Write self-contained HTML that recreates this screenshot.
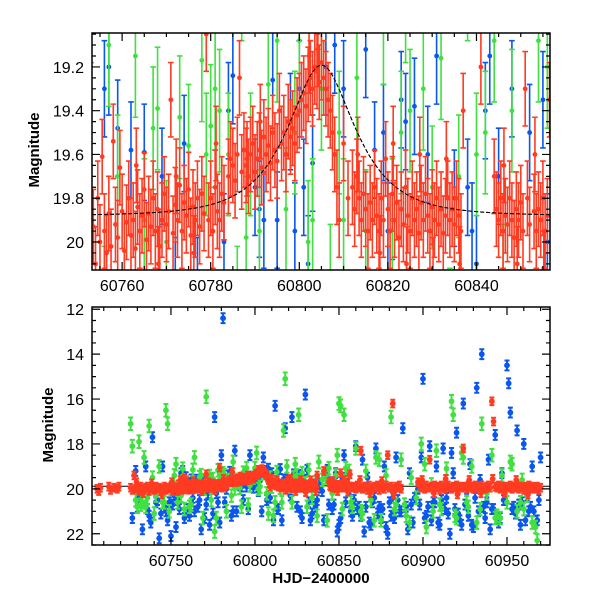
<!DOCTYPE html>
<html><head><meta charset="utf-8"><style>
html,body{margin:0;padding:0;background:#fff;width:600px;height:600px;overflow:hidden;}
svg{display:block;font-family:"Liberation Sans",Arial,sans-serif;}
</style></head><body>
<svg id="chart" width="600" height="600" viewBox="0 0 600 600">
<defs>
<clipPath id="clipTop"><rect x="92" y="33" width="458" height="237"/></clipPath>
<clipPath id="clipBot"><rect x="92" y="307" width="458" height="238"/></clipPath>
</defs>
<g id="top-marks" clip-path="url(#clipTop)"></g>
<g id="bot-marks" clip-path="url(#clipBot)"></g>
<g id="axes"></g>
<text x="0" y="0" transform="translate(39,150) rotate(-90)" text-anchor="middle" font-size="15" font-weight="bold">Magnitude</text>
<text x="0" y="0" transform="translate(53,425) rotate(-90)" text-anchor="middle" font-size="15" font-weight="bold">Magnitude</text>
<text x="321" y="583" text-anchor="middle" font-size="15" font-weight="bold">HJD−2400000</text>
</svg>
<script>
// ---- data ----
const redT = [60706,60707,60708,60713,60714,60716,60718,60719,
60726,60727,60728,60729,60730,60731,60732,60733,60734,60735,60736,60737,60738,60739,60740,60741,60742,60743,60744,60745,60746,60747,60748,60749,60750,60751,60752,
60753.5,60754,60754.5,60755,60755.5,60756,60756.5,60757,60757.5,60758,60758.5,60759,60759.5,60760,60760.5,60761,60761.5,60762,60762.5,60763,60763.5,60764,60764.5,60765,60765.5,60766,60766.5,60767,60767.5,60768,60768.5,60769,60769.5,60770,60770.5,60771,60771.5,60772,60772.5,60773,60773.5,60774,60774.5,60775,60775.5,60776,60776.5,60777,60777.5,60778,60778.5,60779,60779.5,60780,60780.5,60781,60781.5,60782,60782.5,60783,60784,60784.5,60785,60785.5,60786,60786.5,60787,60787.5,60788,60788.5,60789,60789.5,60790,60790.5,60791,60791.5,60792,60792.5,60793,60793.5,60794,60794.5,60795,60796,60796.5,60797,60797.5,60798,60798.5,60799,60799.5,60800,60800.5,60801,60801.5,60802,60802.5,60803,60803.5,60804,60804.5,60805,60805.5,60806,60806.5,60807,60807.5,60808,60808.5,60809,60810,60811,60812,60812.5,60813,60813.5,60814,60814.5,60815,60815.5,60816,60816.5,60817,60817.5,60818,60818.5,60819,60819.5,60820,60820.5,60821,60821.5,60822,60822.5,60823,60823.5,60824,60824.5,60825,60825.5,60826,60826.5,60827,60827.5,60828,60828.5,60829,60829.5,60830,60830.5,60831,60831.5,60832,60832.5,60833,60833.5,60834,60834.5,60835,60835.5,60836,60836.5,60837,60841,60844,60844.5,60845,60845.5,60846,60846.5,60847,60847.5,60848,60848.5,60849,60849.5,60850,60850.5,60851,60851.5,60852,60853,60853.5,60854,60854.5,60855,60855.5,60856,60856.5,
60858,60859,60860,60861,60862,60863,60864,60865,60866,60867,60868,60869,60870,60871,60872,60873,60874,60875,60876,60877,60878,60879,60880,60881,60882,60883,60884,60885,60886,60887,
60897,60898,60899,60900,60901,60902,60903,60904,60905,60906,60907,60908,60909,60910,60911,60912,60913,60914,60915,60916,60917,60918,60919,60920,60921,60922,60923,60924,60925,60926,60927,60928,60929,60930,60931,60932,60933,60934,60935,60936,60937,60938,60939,60940,60941,60942,60943,60944,60945,60946,60947,60948,60949,60950,60951,60952,60953,60954,60955,60956,60957,60958,60959,60960,60961,60962,60963,60964,60965,60966,60967,60968,60969,60970,
60729.5,60733.5,60738.5,60744.5,60750.5,60763.2,60768.2,60772.2,60776.2,60781.2,60788.2,60791.2,60795.5,60802.2,60804.2,60813.2,60818.2,60821.2,60824.2,60827.2,60830.2,60833.2,60836.2,60846.2,60849.2,60853.2,60855.2,60862.5,60868.5,60875.5,60882.5,60899.5,60906.5,60913.5,60920.5,60927.5,60934.5,60941.5,60948.5,60955.5,60962.5];
const redM = [20.0,20.1,19.95,19.9,20.05,19.95,20.0,19.9,
19.95,20.05,19.4,20.0,19.95,20.1,19.9,20.0,20.05,19.95,19.9,20.1,20.0,19.95,20.05,19.9,20.0,19.95,20.1,20.0,19.9,20.05,19.95,20.0,19.9,20.1,19.95,
19.93,20.1,19.8,20.0,19.61,19.95,20.05,19.87,20.02,19.54,19.92,19.98,19.66,19.86,20.04,19.91,19.8,19.97,19.9,20.03,19.84,19.95,19.88,19.76,19.99,19.87,19.93,19.8,19.95,19.85,20.02,19.9,19.78,19.92,19.86,19.35,19.96,19.83,19.9,19.74,19.95,19.82,19.88,19.76,19.97,19.84,19.9,19.8,19.93,19.78,19.87,19.05,19.9,19.8,19.95,19.75,19.86,19.9,19.78,19.82,19.7,19.62,19.65,19.72,19.6,19.25,19.68,19.58,19.65,19.7,19.6,19.55,19.68,19.62,19.58,19.66,19.52,19.6,19.56,19.64,19.5,19.58,19.63,19.55,19.5,19.6,19.45,19.52,19.48,19.55,19.42,19.4,19.35,19.32,19.38,19.28,19.25,19.3,19.2,19.22,19.27,19.18,19.25,19.3,19.35,19.4,19.5,19.6,19.75,19.9,19.55,19.8,19.75,19.85,19.7,19.8,19.9,19.78,19.85,19.95,19.82,19.9,19.75,19.88,19.95,19.8,19.9,19.62,19.85,19.95,19.78,19.9,19.82,19.98,19.85,19.92,19.75,19.88,19.95,19.8,19.9,19.85,19.96,19.82,19.9,19.78,19.88,19.95,19.84,19.9,19.8,19.92,19.85,19.96,19.88,19.8,19.9,19.85,19.92,19.8,19.88,19.95,19.4,19.2,19.7,19.85,19.9,19.8,19.95,19.88,19.92,19.8,19.9,19.98,19.85,19.9,19.82,19.95,19.3,19.8,19.92,19.86,19.95,19.85,19.9,19.8,19.95,19.88,19.35,
19.95,19.9,20.0,19.85,19.95,18.3,20.0,19.9,19.95,20.05,19.85,19.95,20.0,19.9,19.95,19.85,20.05,19.9,19.95,20.0,19.85,18.5,19.95,19.9,16.2,20.0,19.9,19.95,19.85,20.0,
19.7,19.85,19.95,19.9,20.0,19.85,19.95,18.7,19.9,20.0,19.85,19.95,19.9,20.05,19.85,19.95,20.0,19.9,19.85,19.95,20.0,19.9,19.95,19.85,20.05,19.9,19.95,18.2,19.9,20.0,19.85,19.95,19.9,20.0,19.85,19.95,19.9,20.05,19.85,19.95,20.0,19.9,19.85,19.95,16.1,17.0,19.9,19.95,19.85,20.0,19.9,19.95,20.05,19.9,19.95,19.85,20.0,19.9,19.95,19.85,20.0,19.9,19.95,20.05,19.9,19.95,19.85,20.0,19.9,19.95,20.0,19.9,20.05,19.95,
19.7,20.2,19.75,20.25,19.7,19.65,20.1,19.7,20.05,19.55,19.62,19.45,19.4,19.15,19.12,19.6,20.05,19.55,20.1,19.6,20.15,19.62,20.1,19.65,20.1,19.6,20.12,19.6,20.2,19.65,20.25,19.6,20.2,19.55,20.25,19.6,20.2,19.55,20.2,19.6,20.25];
const blueT = [60727,60729,60731,60733,60735,60737,60739,60741,60743,60745,60746,60748,60750,60752,60754,60756,60757,60759,60760,60762,60764,60765,60767,60769,60770,60772,60774,60776,60777,60779,60780,60781,60783,60784,60785,60787,60788,60790,60791,60792,60793,60794,60795,60797,60798,60799,60800,60801,60802,60803,60805,60806,60808,60809,60810,60812,60814,60815,60816,60817,60818,60819,60820,60821,60822,60823,60824,60826,60827,60829,60830,60831,60833,60835,60837,60838,60839,60840,60842,60843,60845,60846,60848,60850,60852,60853,60855,60856,60858,60860,60862,60865,60867,60870,60872,60875,60877,60879,60882,60884,60886,60888,60890,60892,60894,60897,60899,60900,60902,60904,60906,60908,60910,60912,60914,60916,60918,60920,60922,60924,60926,60928,60930,60932,60934,60935,60937,60939,60941,60943,60945,60947,60950,60951,60952,60954,60956,60958,60960,60962,60965,60968,60970,
60736,60744,60751,60758,60766,60773,60778,60786,60796,60804,60811,60825,60834,60844,60851,60861,60868,60874,60881,60898,60905,60913,60921,60929,60936,60944,60953,60963,
60730,60738,60742,60747,60749,60753,60755,60761,60763,60768,60771,60775,60782,60789,60807,60813,60828,60832,60836,60841,60847,60849,60854,60857,60859,60863,60864,60866,60869,60871,60873,60876,60878,60880,60883,60885,60887,60891,60893,60895,60901,60903,60907,60909,60911,60915,60917,60919,60923,60925,60927,60931,60933,60938,60940,60942,60946,60948,60955,60957,60959,60961,60964,60966,60969];
const blueM = [21.3,19.2,20.4,21.8,19.0,21.2,17.7,20.6,22.2,19.0,20.8,21.4,22.1,20.3,20.5,19.3,19.2,19.48,20.9,19.58,21.0,19.59,20.5,19.7,21.3,20.2,19.55,16.8,20.2,21.5,18.5,12.4,20.0,19.4,19.24,21.0,18.3,19.75,19.85,19.9,20.5,19.26,19.9,18.5,19.45,19.95,19.3,19.75,20.1,19.64,18.6,19.2,19.1,20.4,19.3,16.3,20.9,19.12,21.4,19.58,17.3,19.5,19.95,20.3,16.8,19.35,19.45,19.38,21.0,19.6,15.8,19.15,21.4,19.8,20.5,19.75,19.95,20.1,19.4,19.15,19.7,20.9,19.3,21.6,19.5,18.5,19.35,20.0,21.2,18.1,20.8,21.9,19.5,20.6,18.2,21.3,19.0,22.0,20.4,18.6,21.0,17.3,20.8,19.3,21.5,20.0,18.6,15.1,21.2,18.1,20.6,19.0,21.6,18.2,20.4,22.0,19.3,17.5,21.4,16.2,20.0,18.9,21.7,15.5,19.6,14.0,21.3,18.7,20.9,17.6,21.5,19.3,14.5,15.3,16.6,20.8,17.4,21.6,18.0,20.3,19.0,21.4,18.6,
20.9,21.1,20.7,21.3,20.8,21.6,20.6,21.2,20.9,21.0,21.4,20.8,21.1,20.7,21.3,20.9,21.5,20.8,21.2,20.7,21.4,20.9,21.1,21.6,20.8,21.3,20.9,21.0,
20.8,21.5,20.5,21.0,20.6,21.7,20.9,21.2,20.4,21.8,20.7,21.1,20.6,21.0,20.5,20.9,21.3,20.6,20.8,21.4,20.7,21.9,20.6,21.0,20.5,21.2,18.7,20.8,21.6,20.4,21.1,20.9,21.7,20.6,21.3,20.5,21.0,21.8,20.7,20.4,21.3,20.8,20.6,21.5,20.5,21.1,18.4,20.9,21.6,20.7,21.2,20.4,21.0,20.6,21.8,20.9,21.3,20.5,21.1,20.7,20.6,21.4,20.8,21.0,20.5];
const greenT = [60726,60727,60729,60731,60732,60734,60735,60737,60739,60741,60743,60745,60747,60748,60750,60752,60754,60756,60757,60759,60761,60763,60765,60767,60768,60770,60771,60773,60775,60776,60778,60779,60780,60781,60782,60784,60786,60788,60789,60791,60793,60795,60797,60799,60800,60802,60803,60805,60807,60809,60810,60812,60813,60815,60817,60818,60819,60821,60823,60825,60826,60828,60830,60832,60834,60836,60838,60840,60842,60844,60846,60848,60850,60851,60853,60854,60856,60858,60860,60863,60866,60869,60872,60875,60878,60881,60884,60887,60890,60893,60896,60899,60902,60905,60908,60911,60914,60917,60918,60920,60923,60926,60929,60932,60935,60938,60941,60944,60947,60950,60953,60956,60959,60962,60965,60968,
60733,60749,60762,60777,60792,60808,60822,60837,60852,60871,60889,60906,60927,60946,60960,
60730,60736,60740,60746,60753,60758,60764,60769,60774,60783,60787,60796,60801,60811,60816,60824,60831,60843,60849,60857,60864,60874,60883,60892,60901,60910,60919,60924,60934,60943,60952,60958,60967];
const greenM = [17.1,18.1,20.5,17.9,20.7,18.6,20.8,17.2,19.5,20.3,19.0,20.6,16.5,17.1,20.0,19.4,20.6,20.3,19.1,19.7,20.8,19.15,19.9,19.48,19.39,20.0,15.9,19.43,19.56,21.9,19.17,19.6,19.47,19.3,19.4,19.6,20.3,19.98,19.6,19.95,19.28,19.08,19.85,19.5,19.08,20.0,19.9,19.3,20.2,19.5,19.9,20.6,19.25,19.95,17.4,15.1,19.0,19.9,19.5,19.4,16.7,19.3,19.75,19.16,20.4,19.7,18.8,19.6,19.5,19.08,20.2,19.4,16.2,16.3,16.7,19.08,19.2,20.8,18.2,21.0,19.2,20.5,18.6,21.4,19.4,16.8,20.7,18.7,21.2,19.5,20.4,18.0,21.7,19.8,18.3,20.9,19.1,16.1,16.7,21.3,18.4,20.6,19.0,21.5,17.1,20.2,18.5,21.2,19.4,20.6,18.9,21.0,19.6,20.3,21.5,22.3,
20.6,21.0,20.7,21.3,20.8,21.1,20.6,21.2,20.9,21.4,20.7,21.0,20.8,21.3,20.9,
20.8,20.4,21.1,20.6,18.9,20.9,18.6,21.3,20.5,21.0,18.8,20.7,18.4,21.2,20.6,18.9,20.8,21.4,18.5,20.6,21.1,18.7,20.9,21.5,18.9,20.7,21.2,18.6,20.9,21.3,18.8,20.6,21.7];
const redErr = 0.17, greenErr = 0.28, blueErr = 0.22;
// model: t0, u0, tE, baseline
const modelT0 = 60805, modelU0 = 0.6, modelTE = 12, modelBase = 19.88;

// ---- axes ----
const NS = "http://www.w3.org/2000/svg";
const P = {
  top: {x0:92,x1:550,y0:33,y1:270, tmin:60753.2,tmax:60856.6, mmin:19.045,mmax:20.128},
  bot: {x0:92,x1:550,y0:307,y1:545, tmin:60703,tmax:60975.6, mmin:11.9,mmax:22.5}
};
function xs(p,t){return p.x0+(t-p.tmin)/(p.tmax-p.tmin)*(p.x1-p.x0);}
function ys(p,m){return p.y0+(m-p.mmin)/(p.mmax-p.mmin)*(p.y1-p.y0);}
function el(tag,attrs,parent){const e=document.createElementNS(NS,tag);for(const k in attrs)e.setAttribute(k,attrs[k]);parent.appendChild(e);return e;}
function model(t){const u=Math.sqrt(modelU0*modelU0+((t-modelT0)/modelTE)**2);const A=(u*u+2)/(u*Math.sqrt(u*u+4));return modelBase-2.5*Math.log10(A);}

const series=[
  {name:'blue',T:blueT,M:blueM,E:blueErr,c:'#0a56ee'},
  {name:'green',T:greenT,M:greenM,E:greenErr,c:'#40e040'},
  {name:'red',T:redT,M:redM,E:redErr,c:'#ff3b22'}
];
function drawPanel(p,g,key,cap,r,dashed,ew){
  let d='';
  for(let t=p.tmin;t<=p.tmax;t+=0.25){d+=(d?'L':'M')+xs(p,t).toFixed(1)+','+ys(p,model(t)).toFixed(1);}
  const mc=el('path',{d:d,fill:'none',stroke:'#000','stroke-width':1,'stroke-dasharray':dashed?'4,2':'none'},g);
  
  
  series.forEach(s=>{
    const sg=el('g',{},g);
    
    
    for(let i=0;i<s.T.length;i++){
      const x=xs(p,s.T[i]);
      if(x<p.x0-5||x>p.x1+5)continue;
      const ya=ys(p,s.M[i]-s.E),yb=ys(p,s.M[i]+s.E),y=ys(p,s.M[i]);
      const eb=el('path',{d:`M${x},${ya}V${yb}M${x-cap},${ya}h${2*cap}M${x-cap},${yb}h${2*cap}`,stroke:s.c,'stroke-width':ew,fill:'none'},sg);
      
      
      const c=el('circle',{cx:x,cy:y,r:r,fill:s.c},sg);
      
      
    }
  });
  if(dashed){const mc2=mc.cloneNode();g.appendChild(mc2);}
}
drawPanel(P.top,document.getElementById('top-marks'),'top',2.8,2.4,true,1.6);
drawPanel(P.bot,document.getElementById('bot-marks'),'bottom',2.5,2.9,false,2);

const ax=document.getElementById('axes');
function frame(p,key,xMaj,xMin,yMaj,yMin,yfmt){
  const f=el('rect',{x:p.x0,y:p.y0,width:p.x1-p.x0,height:p.y1-p.y0,fill:'none',stroke:'#000','stroke-width':1.5},ax);
  
  
  let d='';
  const t0=Math.ceil(p.tmin/xMin)*xMin;
  for(let t=t0;t<=p.tmax;t+=xMin){
    const x=xs(p,t);const major=Math.abs(t/xMaj-Math.round(t/xMaj))<1e-6;const L=major?8:4;
    d+=`M${x},${p.y1}v${-L}M${x},${p.y0}v${L}`;
    if(major){const tx=el('text',{x:x,y:p.y1+21,'text-anchor':'middle','font-size':16},ax);tx.textContent=Math.round(t);
      }
  }
  const m0=Math.ceil(p.mmin/yMin-1e-9)*yMin;
  for(let m=m0;m<=p.mmax+1e-9;m+=yMin){
    const y=ys(p,m);const major=Math.abs(m/yMaj-Math.round(m/yMaj))<1e-6;const L=major?8:4;
    d+=`M${p.x0},${y}h${L}M${p.x1},${y}h${-L}`;
    if(major){const tx=el('text',{x:p.x0-8,y:y+6,'text-anchor':'end','font-size':16},ax);tx.textContent=yfmt(m);
      }
  }
  const tk=el('path',{d:d,stroke:'#000','stroke-width':1.2,fill:'none'},ax);
  
  
}
frame(P.top,'top',20,5,0.2,0.05,m=>{const v=Math.round(m*10)/10;return v===20?'20':v.toFixed(1);});
frame(P.bot,'bottom',50,10,2,0.5,m=>String(Math.round(m)));
</script>
</body></html>
